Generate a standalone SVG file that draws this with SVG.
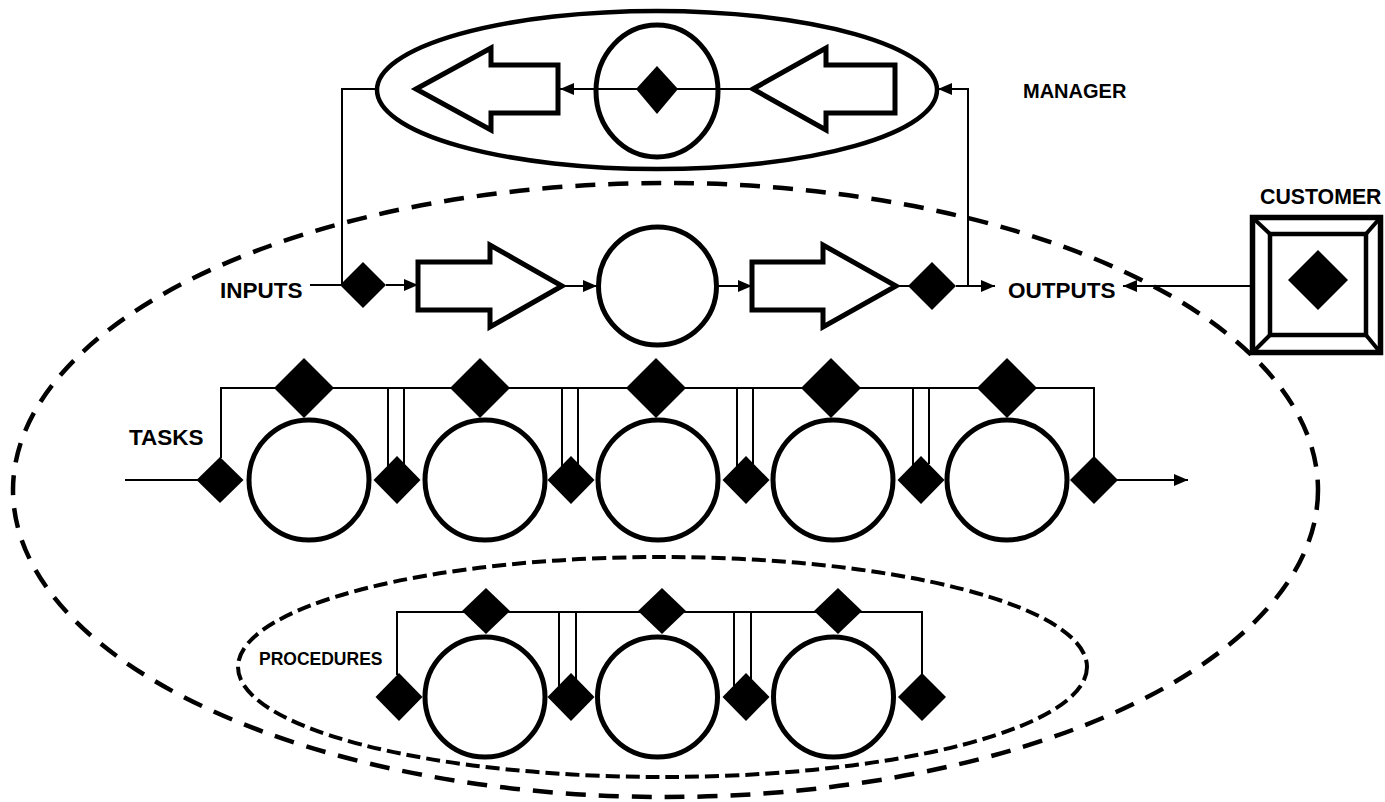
<svg xmlns="http://www.w3.org/2000/svg" width="1385" height="802" viewBox="0 0 1385 802">
<style>
.bg{fill:#fff}
.thick{fill:none;stroke:#000;stroke-width:5}
.node{fill:#fff;stroke:#000;stroke-width:5}
.dia{fill:#000;stroke:none}
.ln{fill:none;stroke:#000;stroke-width:2}
.lbl{font-family:"Liberation Sans",Arial,sans-serif;font-weight:bold;font-size:22.5px;fill:#000}
.mgr{font-size:20px}
.cust{font-size:21.3px}
.small{font-size:17.5px}
</style>
<defs>
<marker id="ah" viewBox="0 0 14 12" refX="14" refY="6" markerWidth="14" markerHeight="12" markerUnits="userSpaceOnUse" orient="auto">
<path d="M0,0 L14,6 L0,12 z" fill="#000"/>
</marker>
</defs>
<rect class="bg" x="0" y="0" width="1385" height="802"/>

<g id="scope">
<ellipse cx="665.5" cy="490" rx="652.5" ry="307" fill="none" stroke="#000" stroke-width="4.5" stroke-dasharray="20 13"/>
</g>
<g id="procedures-scope">
<ellipse cx="662.5" cy="667" rx="424.5" ry="110" fill="none" stroke="#000" stroke-width="4" stroke-dasharray="14 6"/>
</g>

<g id="connectors">
<!-- manager loop -->
<polyline class="ln" points="376,89 342,89 342,285 310,285"/>
<polyline class="ln" points="956,286 968,286 968,89 938,89" marker-end="url(#ah)"/>
<line class="ln" x1="753" y1="89" x2="560" y2="89" marker-end="url(#ah)"/>
<!-- main flow -->
<line class="ln" x1="386" y1="285" x2="418" y2="285" marker-end="url(#ah)"/>
<line class="ln" x1="562" y1="286" x2="597" y2="286" marker-end="url(#ah)"/>
<line class="ln" x1="718" y1="286" x2="752" y2="286" marker-end="url(#ah)"/>
<line class="ln" x1="897" y1="286" x2="910" y2="286"/>
<line class="ln" x1="956" y1="286" x2="995" y2="286" marker-end="url(#ah)"/>
<line class="ln" x1="1250" y1="286" x2="1123" y2="286" marker-end="url(#ah)"/>
<!-- tasks -->
<line class="ln" x1="125" y1="480" x2="200" y2="480"/>
<polyline class="ln" points="221,458 221,388 1094,388 1094,458"/>
<line class="ln" x1="388" y1="388" x2="388" y2="466"/>
<line class="ln" x1="404" y1="388" x2="404" y2="464"/>
<line class="ln" x1="562" y1="388" x2="562" y2="466"/>
<line class="ln" x1="578" y1="388" x2="578" y2="464"/>
<line class="ln" x1="737" y1="388" x2="737" y2="466"/>
<line class="ln" x1="753" y1="388" x2="753" y2="464"/>
<line class="ln" x1="913" y1="388" x2="913" y2="466"/>
<line class="ln" x1="929" y1="388" x2="929" y2="464"/>
<line class="ln" x1="1116" y1="480" x2="1188" y2="480" marker-end="url(#ah)"/>
<!-- procedures -->
<polyline class="ln" points="397,675 397,612 922,612 922,675"/>
<line class="ln" x1="559" y1="612" x2="559" y2="686"/>
<line class="ln" x1="576" y1="612" x2="576" y2="680"/>
<line class="ln" x1="734" y1="612" x2="734" y2="686"/>
<line class="ln" x1="751" y1="612" x2="751" y2="680"/>
</g>

<g id="manager">
<ellipse cx="657" cy="90" rx="280" ry="79" fill="none" stroke="#000" stroke-width="4.5"/>
<path class="thick" d="M416,89 L491,48 V65 H558 V113 H491 V130 Z"/>
<ellipse class="thick" cx="657" cy="91" rx="61" ry="66"/>
<path class="thick" d="M753,89 L826,48 V65 H895 V113 H826 V130 Z"/>
<line class="ln" x1="753" y1="89" x2="575" y2="89"/>
<path class="dia" d="M657,66 L678,89 L657,114 L636,89 Z"/>
<text class="lbl mgr" x="1023" y="98">MANAGER</text>
</g>

<g id="inputs">
<text class="lbl" x="220" y="298">INPUTS</text>
<path class="dia" d="M363,262 L386,285 L363,308 L340,285 Z"/>
</g>
<g id="process-in">
<path class="thick" d="M418,262 H490 V245 L562,286 L490,327 V310 H418 Z"/>
</g>
<g id="process">
<circle class="node" cx="657.5" cy="286" r="59"/>
</g>
<g id="process-out">
<path class="thick" d="M752,262 H823 V245 L896,286 L823,327 V310 H752 Z"/>
<path class="dia" d="M932,262 L956,286 L932,310 L908,286 Z"/>
</g>
<g id="outputs">
<text class="lbl" x="1008" y="298">OUTPUTS</text>
</g>

<g id="customer">
<text class="lbl cust" x="1260" y="204">CUSTOMER</text>
<rect x="1252.5" y="217.5" width="128" height="135" fill="#fff" stroke="#000" stroke-width="5.5"/>
<rect x="1270" y="234" width="96" height="101" fill="none" stroke="#000" stroke-width="4.5"/>
<g class="ln" style="stroke-width:4">
<line x1="1253" y1="218" x2="1270" y2="234"/>
<line x1="1380" y1="218" x2="1366" y2="234"/>
<line x1="1253" y1="352" x2="1270" y2="335"/>
<line x1="1380" y1="352" x2="1366" y2="335"/>
</g>
<path class="dia" d="M1318,250 L1348,280 L1318,310 L1288,280 Z"/>
</g>

<g id="tasks">
<text class="lbl" x="129" y="445">TASKS</text>
<path class="dia" d="M220,457 L243.5,480 L220,503 L196.5,480 Z"/>
<circle class="node" cx="309" cy="480" r="60"/>
<circle class="node" cx="485" cy="480" r="60"/>
<circle class="node" cx="658" cy="480" r="60"/>
<circle class="node" cx="833" cy="480" r="60"/>
<circle class="node" cx="1007" cy="480" r="60"/>
<path class="dia" d="M304,358 L334,388 L304,418 L274,388 Z"/>
<path class="dia" d="M480,358 L510,388 L480,418 L450,388 Z"/>
<path class="dia" d="M656,358 L686,388 L656,418 L626,388 Z"/>
<path class="dia" d="M831,358 L861,388 L831,418 L801,388 Z"/>
<path class="dia" d="M1007,358 L1037,388 L1007,418 L977,388 Z"/>
<path class="dia" d="M397,456 L420.5,480 L397,504 L373.5,480 Z"/>
<path class="dia" d="M571,456 L594.5,480 L571,504 L547.5,480 Z"/>
<path class="dia" d="M746,456 L769.5,480 L746,504 L722.5,480 Z"/>
<path class="dia" d="M921,456 L944.5,480 L921,504 L897.5,480 Z"/>
<path class="dia" d="M1094,456 L1118,480 L1094,504 L1070,480 Z"/>
</g>

<g id="procedures">
<text class="lbl small" x="259" y="665">PROCEDURES</text>
<circle class="node" cx="485" cy="697" r="60"/>
<circle class="node" cx="657.5" cy="697" r="60"/>
<circle class="node" cx="833.5" cy="697" r="60"/>
<path class="dia" d="M486,588 L510,611 L486,634 L462,611 Z"/>
<path class="dia" d="M662,588 L686,611 L662,634 L638,611 Z"/>
<path class="dia" d="M838,588 L862,611 L838,634 L814,611 Z"/>
<path class="dia" d="M399,673 L422.5,697 L399,721 L375.5,697 Z"/>
<path class="dia" d="M571,673 L594.5,697 L571,721 L547.5,697 Z"/>
<path class="dia" d="M746,673 L769.5,697 L746,721 L722.5,697 Z"/>
<path class="dia" d="M922,673 L946,697 L922,721 L898,697 Z"/>
</g>
</svg>
